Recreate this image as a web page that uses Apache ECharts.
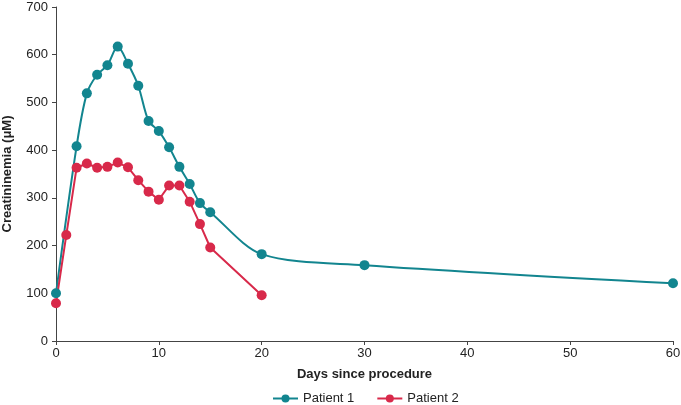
<!DOCTYPE html>
<html><head><meta charset="utf-8">
<script src="https://cdn.jsdelivr.net/npm/echarts@6/dist/echarts.min.js"></script>
<style>html,body{margin:0;padding:0;background:#fff}#c{width:681px;height:405px}</style>
</head><body><div id="c"></div>
<script>
const p1Days = [0, 2, 3, 4, 5, 6, 7, 8, 9, 10, 11, 12, 13, 14, 15, 20, 30, 60];
const p1Vals = [100, 408, 519, 558, 578, 617, 581, 535, 461, 440, 406, 365, 329, 289, 270, 182, 159, 121];
const p2Days = [0, 1, 2, 3, 4, 5, 6, 7, 8, 9, 10, 11, 12, 13, 14, 15, 20];
const p2Vals = [79, 222, 363, 372, 363, 365, 374, 364, 337, 313, 296, 326, 326, 292, 245, 196, 96];
const xTicks = [0, 10, 20, 30, 40, 50, 60];
const yTicks = [0, 100, 200, 300, 400, 500, 600, 700];

const font = 'Liberation Sans, Arial, sans-serif';
const chart = echarts.init(document.getElementById('c'), null, {renderer: 'canvas'});
chart.setOption({
  animation: false,
  textStyle: {fontFamily: font},
  grid: {left: 56, right: 8, top: 7, bottom: 64, containLabel: false, outerBoundsMode: 'none'},
  legend: {
    top: 387, left: 267, itemWidth: 25, itemHeight: 10, itemGap: 22,
    textStyle: {fontSize: 13, color: '#222', fontFamily: font},
    data: ['Patient 1', 'Patient 2']
  },
  xAxis: {
    type: 'value', min: xTicks[0], max: xTicks[xTicks.length - 1], interval: 10,
    name: 'Days since procedure', nameLocation: 'middle', nameGap: 27,
    nameTextStyle: {fontSize: 13, fontWeight: 'bold', color: '#222', fontFamily: font},
    axisLine: {lineStyle: {color: '#444', width: 1}},
    axisTick: {show: true, length: 4, inside: false, lineStyle: {color: '#444'}},
    axisLabel: {fontSize: 13, color: '#222', margin: 6},
    splitLine: {show: false}
  },
  yAxis: {
    type: 'value', min: yTicks[0], max: yTicks[yTicks.length - 1], interval: 100,
    name: 'Creatininemia (\u03bcM)', nameLocation: 'middle', nameGap: 42,
    nameTextStyle: {fontSize: 13, fontWeight: 'bold', color: '#222', fontFamily: font},
    axisLine: {show: true, lineStyle: {color: '#444', width: 1}},
    axisTick: {show: true, length: 4, lineStyle: {color: '#444'}},
    axisLabel: {fontSize: 13, color: '#222', margin: 8},
    splitLine: {show: false}
  },
  series: [
    {
      name: 'Patient 1', type: 'line', smooth: 0.3,
      data: p1Days.map((d, i) => [d, p1Vals[i]]),
      symbol: 'circle', symbolSize: 10,
      itemStyle: {color: '#12858f'},
      lineStyle: {color: '#12858f', width: 2}
    },
    {
      name: 'Patient 2', type: 'line', smooth: false,
      data: p2Days.map((d, i) => [d, p2Vals[i]]),
      symbol: 'circle', symbolSize: 10,
      itemStyle: {color: '#d8294a'},
      lineStyle: {color: '#d8294a', width: 2}
    }
  ]
});
</script></body></html>
